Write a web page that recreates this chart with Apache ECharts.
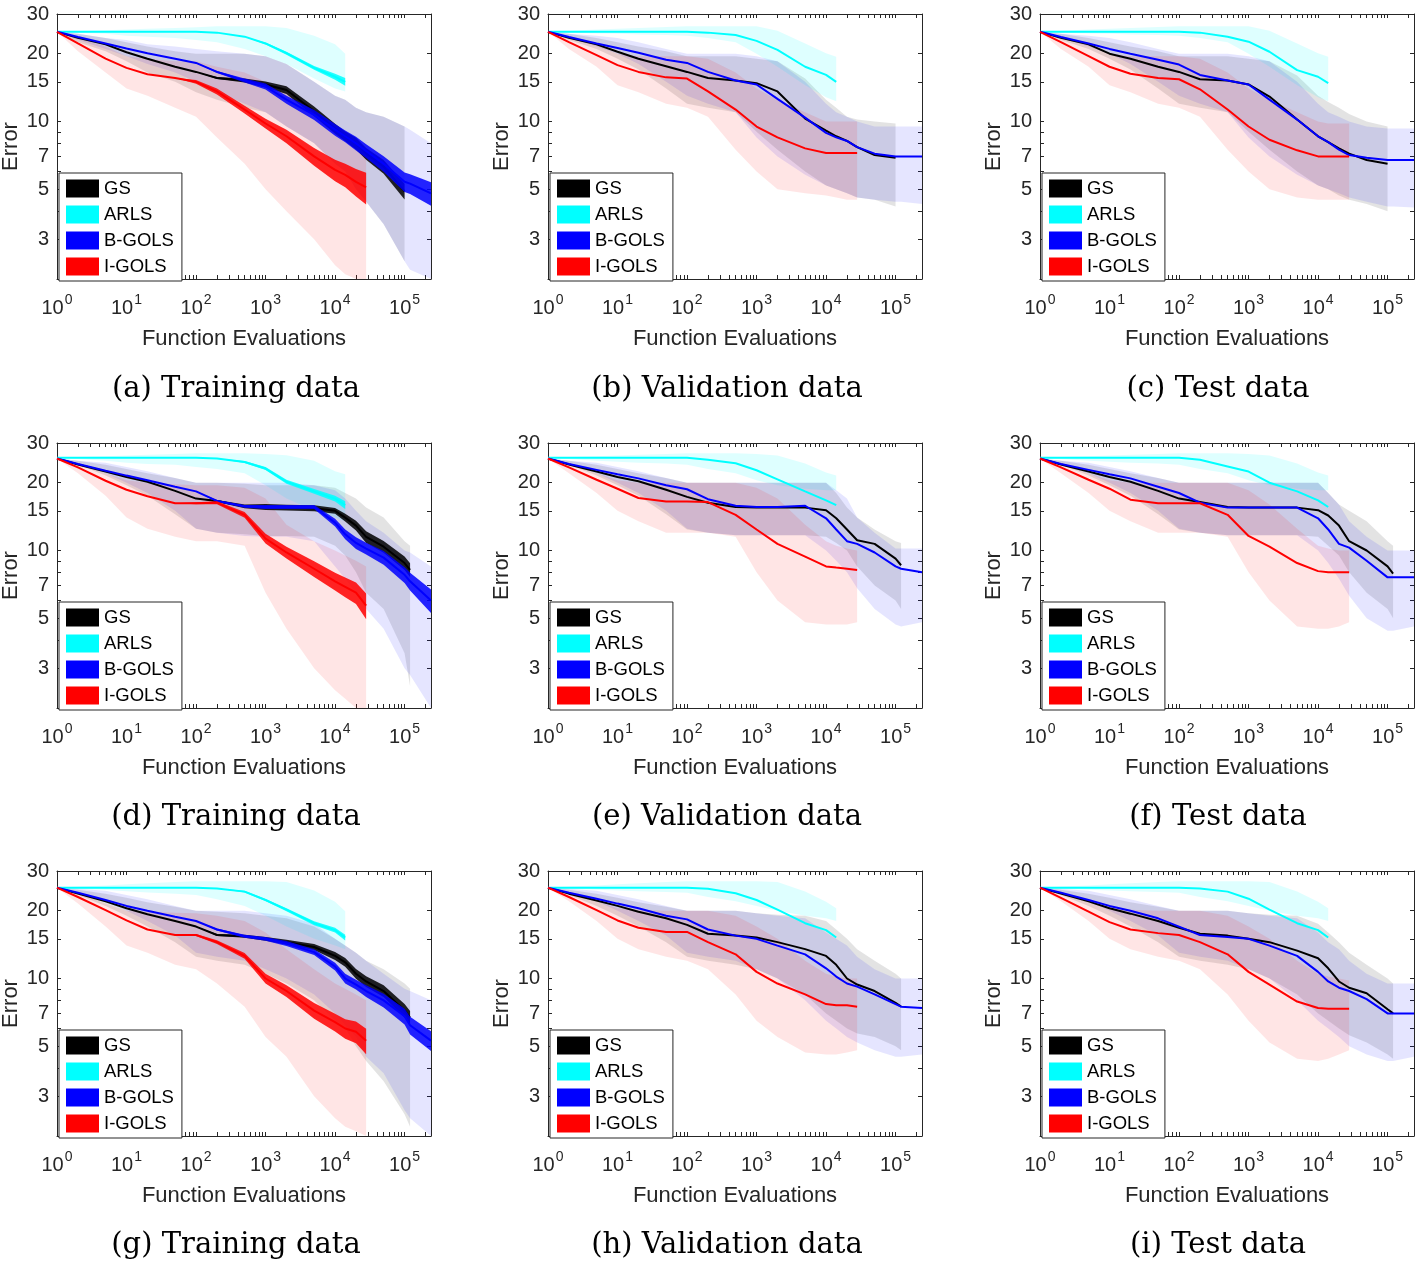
<!DOCTYPE html>
<html>
<head>
<meta charset="utf-8">
<script src="https://cdn.jsdelivr.net/npm/echarts@6/dist/echarts.min.js"></script>
<style>html,body{margin:0;padding:0;background:#fff}#c{width:1420px;height:1264px}</style>
</head>
<body>
<div id="c"></div>
<script>
// ---- shared x grid (function evaluations) ----
const X = [1, 2, 5, 10, 20, 50, 100, 200, 500, 1e3, 2e3, 5e3, 1e4, 1.4e4, 2e4, 2.8e4, 5e4, 1e5, 1.2e5, 2.4e5];
const X_MAX = 2.4e5;
const Y_MIN = 2, Y_MAX = 30;
const X_LABELS = [1, 10, 100, 1000, 10000, 100000];
const X_TICKS = [1,2,3,4,5,6,7,8,9,10,20,30,40,50,60,70,80,90,100,200,300,400,500,600,700,800,900,
  1000,2000,3000,4000,5000,6000,7000,8000,9000,10000,20000,30000,40000,50000,60000,70000,80000,90000,100000,200000];
const Y_LABELS = [3, 5, 7, 10, 15, 20, 30];
const Y_TICKS = [3, 4, 5, 6, 7, 8, 9, 10, 15, 20, 30];
const NAMES = ['GS', 'ARLS', 'B-GOLS', 'I-GOLS'];
const CAPTIONS = ['(a) Training data', '(b) Validation data', '(c) Test data',
                  '(d) Training data', '(e) Validation data', '(f) Test data',
                  '(g) Training data', '(h) Validation data', '(i) Test data'];

// ---- panel (a) ----
const a_gs = [25, 23.5, 22, 20.3, 19, 17.5, 16.6, 15.6, 15.2, 14.6, 13.8, 11.1, 9.3, 8.6, 8.0, 7.2, 6.3, 4.9];
const a_gs_lo = [25, 22.5, 20.5, 18.5, 16.5, 15, 13.5, 12.5, 11.5, 11, 9.5, 8, 6.5, 6, 5, 4.4, 3.5, 2.4];
const a_gs_hi = [25, 24.5, 23.5, 22.5, 21.5, 20.5, 20, 20, 20, 19.5, 18, 15, 13, 12.5, 11.5, 11, 10.5, 9.5];
const a_arls = [25, 25, 25, 25, 25, 25, 25, 24.8, 23.8, 22.2, 20.1, 17.3, 15.8, 15.0];
const a_arls_lo = [25, 24.8, 24.5, 24, 23.8, 23.5, 23, 22.5, 21, 19.5, 18, 15.5, 14, 13.6];
const a_arls_hi = [25, 25.2, 25.4, 25.6, 25.8, 26, 26.2, 26.5, 26.5, 26.5, 26, 24, 22, 20];
const a_bg = [25, 23.7, 22.2, 21.1, 20.1, 19, 18.2, 16.6, 15.2, 14.3, 12.5, 10.7, 9.2, 8.6, 8.0, 7.4, 6.5, 5.4, 5.3, 4.8];
const a_bg_lo = [25, 23, 21, 19.5, 18, 16.5, 15, 13.5, 12, 11, 9.5, 8, 6.5, 6, 5, 4.4, 3.5, 2.4, 2.2, 2];
const a_bg_hi = [25, 24.5, 23.5, 23, 22, 21.5, 21, 20.5, 20, 19.5, 18, 15, 13, 12.5, 11.5, 11, 10.5, 9.5, 9.2, 8];
const a_ig = [25, 22.2, 19, 17.3, 16.2, 15.6, 15, 13.6, 11.3, 9.8, 8.6, 7.0, 6.1, 5.8, 5.4, 5.1];
const a_ig_lo = [25, 20.5, 16.5, 14, 13, 11.5, 10.5, 8.5, 6.5, 5, 4, 3, 2.3, 2.1, 2, 2];
const a_ig_hi = [25, 23.5, 21.5, 19.5, 19, 18.5, 18.5, 17.5, 16.5, 15, 13.5, 11, 9, 8.5, 8, 7.5];
// relative half-width of the noisy mean curves (training runs)
const a_gs_nz = [0, 0, 0, 0, 0, 0, 0, 0.01, 0.02, 0.03, 0.04, 0.05, 0.05, 0.05, 0.06, 0.06, 0.07, 0.08];
const a_arls_nz = [0, 0, 0, 0, 0, 0, 0, 0, 0, 0.01, 0.015, 0.02, 0.03, 0.04];
const a_bg_nz = [0, 0, 0, 0, 0, 0, 0, 0.01, 0.02, 0.03, 0.04, 0.05, 0.06, 0.06, 0.07, 0.07, 0.08, 0.1, 0.1, 0.12];
const a_ig_nz = [0, 0, 0, 0, 0, 0, 0.02, 0.03, 0.04, 0.05, 0.07, 0.09, 0.11, 0.12, 0.14, 0.16];

// ---- panel (b) ----
const b_gs = [25, 23.5, 22, 20.4, 19, 17.6, 16.6, 15.6, 15.2, 14.8, 13.6, 10.3, 9.1, 8.6, 8.2, 7.7, 7.1, 6.9];
const b_gs_lo = [25, 23, 21, 19, 17, 14, 12, 11.5, 11, 9, 7.5, 6, 5.2, 5, 4.8, 4.6, 4.5, 4.2];
const b_gs_hi = [25, 24.5, 23.5, 22.5, 21.5, 20.5, 19.5, 19.5, 19.5, 19, 18.5, 15.5, 12.5, 11.5, 10.5, 10.2, 10, 9.8];
const b_arls = [25, 25, 25, 25, 25, 25, 25, 24.8, 24.2, 22.8, 20.8, 17.5, 16.1, 15.0];
const b_arls_lo = [25, 24.8, 24.6, 24.5, 24.3, 24.2, 24, 23.5, 22.5, 20, 17.5, 14.5, 12.8, 12.3];
const b_arls_hi = [25, 25.3, 25.6, 25.8, 26, 26.3, 26.5, 26.5, 26.5, 26.5, 25.3, 22.2, 20.1, 19.4];
const b_bg = [25, 23.7, 22.2, 21.2, 20.2, 18.8, 18.2, 16.6, 15.2, 14.6, 12.6, 10.4, 8.9, 8.5, 8.2, 7.7, 7.2, 7.0, 7.0, 7.0];
const b_bg_lo = [25, 23.5, 21.5, 20, 18, 15, 13, 12, 11, 8.5, 7, 5.8, 5.2, 5, 4.8, 4.6, 4.5, 4.4, 4.4, 4.3];
const b_bg_hi = [25, 24.5, 24, 23.5, 22.5, 21, 20, 20, 20, 19.5, 18.5, 15, 12, 11, 10.5, 10, 9.5, 9.5, 9.5, 9.5];
const b_ig = [25, 22.5, 19.7, 17.8, 16.6, 15.7, 15.5, 13.6, 11.3, 9.5, 8.5, 7.6, 7.25, 7.25, 7.25, 7.25];
const b_ig_lo = [25, 21, 17.5, 14.5, 13.5, 12, 11.5, 10.5, 7.5, 6, 5, 4.8, 4.7, 4.6, 4.5, 4.5];
const b_ig_hi = [25, 24, 22, 20, 19.5, 19.5, 19.5, 19, 16.5, 14, 12.5, 11, 10, 10, 10, 10];

// ---- panel (c) ----
const c_gs = [25, 23.5, 22, 20, 19, 17.5, 16.6, 15.4, 15.2, 14.6, 12.9, 10.2, 8.6, 8.1, 7.6, 7.2, 6.75, 6.5];
const c_gs_lo = [25, 23, 21, 19, 17, 14, 12, 11.5, 11, 9, 7.5, 6, 5.2, 5, 4.7, 4.5, 4.3, 4.0];
const c_gs_hi = [25, 24.5, 23.5, 22.5, 21.5, 20.5, 19.5, 19.5, 19.5, 19, 18.5, 16, 13, 12.2, 11.5, 10.8, 10, 9.5];
const c_arls = [25, 25, 25, 25, 25, 25, 25, 24.8, 23.8, 22.6, 20.4, 16.9, 15.8, 14.8];
const c_arls_lo = [25, 24.8, 24.6, 24.5, 24.3, 24.2, 24, 23.5, 22.5, 20, 17.5, 14.5, 12.8, 12.3];
const c_arls_hi = [25, 25.3, 25.6, 25.8, 26, 26.3, 26.5, 26.5, 26.5, 26.5, 25.3, 22.2, 20.1, 19.4];
const c_bg = [25, 23.7, 22.2, 21, 20, 18.8, 17.9, 16.1, 15.2, 14.6, 12.5, 10.2, 8.6, 8.1, 7.5, 7.1, 6.9, 6.75, 6.75, 6.75];
const c_bg_lo = [25, 23.5, 21.5, 20, 18, 15, 13, 12, 11, 8.5, 7, 5.8, 5.2, 5, 4.8, 4.6, 4.4, 4.2, 4.2, 4.15];
const c_bg_hi = [25, 24.5, 24, 23.5, 22.5, 21, 20, 20, 20, 19.5, 18.5, 15, 12, 11, 10.5, 10, 9.5, 9.3, 9.3, 9.3];
const c_ig = [25, 22.5, 19.5, 17.5, 16.3, 15.6, 15.4, 13.9, 11.3, 9.5, 8.3, 7.45, 7.0, 7.0, 7.0, 7.0];
const c_ig_lo = [25, 21, 17.5, 14.5, 13.5, 12, 11.5, 10.5, 7.5, 6, 5, 4.6, 4.5, 4.5, 4.5, 4.5];
const c_ig_hi = [25, 24, 22, 20, 19.5, 19.5, 19.5, 19, 16.5, 14, 12.5, 11, 10, 9.8, 9.8, 9.8];

// ---- panel (d) ----
const d_gs = [25.6, 24.1, 22.4, 21.2, 20.2, 18.4, 17, 16.6, 15.7, 15.6, 15.5, 15.4, 15, 14.0, 12.9, 11.5, 10.4, 8.8, 8.2];
const d_gs_lo = [25.6, 24, 21.5, 19.5, 17.5, 14.5, 12.5, 12, 11.8, 11.6, 11.6, 11.5, 10.5, 9.5, 8, 6.5, 5.5, 3.5, 2.5];
const d_gs_hi = [25.6, 25, 24, 23, 22, 21, 20, 20, 19.8, 19.5, 19.5, 19.5, 19, 18, 17, 15.5, 14, 11, 10.5];
const d_arls = [25.8, 25.8, 25.8, 25.8, 25.8, 25.8, 25.8, 25.6, 24.7, 23.1, 20.2, 18.3, 17, 15.9];
const d_arls_lo = [25.8, 25.5, 25, 24.5, 24.2, 24, 23.5, 23, 22, 19.5, 17, 15, 14, 13.5];
const d_arls_hi = [25.8, 26, 26.2, 26.4, 26.6, 26.8, 27, 27, 27, 26.8, 26.5, 25, 22.5, 21.8];
const d_bg = [25.6, 24.2, 22.6, 21.5, 20.5, 19.2, 18.3, 16.6, 15.7, 15.6, 15.6, 15.6, 13.3, 11.8, 10.8, 10.2, 9.3, 7.8, 7.3, 6.0];
const d_bg_lo = [25.6, 24, 22, 20, 18, 15, 12.5, 12, 11.6, 11.5, 11.5, 11, 8.5, 7.5, 6.5, 5.5, 4.5, 3, 2.8, 2];
const d_bg_hi = [25.6, 25, 24.5, 23.5, 22.5, 21, 20, 20, 20, 20, 20, 19.5, 18.5, 17, 15, 13.5, 12, 10, 9.8, 8.5];
const d_ig = [25.6, 23.4, 20.4, 18.6, 17.4, 16.2, 16.2, 16.3, 14.4, 11.3, 9.8, 8.3, 7.3, 6.9, 6.5, 5.7];
const d_ig_lo = [25.6, 22, 17.5, 14, 12.5, 11.5, 11, 11, 10.5, 6.5, 4.5, 3, 2.4, 2.2, 2, 2];
const d_ig_hi = [25.6, 24.5, 22, 20.5, 20, 19.7, 19.5, 19.5, 19, 17, 13, 11, 10, 9.5, 9, 8.5];
const d_gs_nz = [0, 0, 0, 0, 0, 0, 0, 0.01, 0.02, 0.03, 0.03, 0.03, 0.03, 0.04, 0.05, 0.06, 0.06, 0.07, 0.07];
const d_arls_nz = [0, 0, 0, 0, 0, 0, 0, 0, 0.01, 0.015, 0.02, 0.025, 0.03, 0.04];
const d_bg_nz = [0, 0, 0, 0, 0, 0, 0, 0.01, 0.015, 0.02, 0.02, 0.02, 0.04, 0.05, 0.06, 0.06, 0.07, 0.08, 0.09, 0.12];
const d_ig_nz = [0, 0, 0, 0, 0, 0, 0.01, 0.015, 0.03, 0.05, 0.06, 0.08, 0.09, 0.1, 0.11, 0.13];

// ---- panel (e) ----
const e_gs = [25.6, 24.1, 22.4, 21.2, 20.3, 18.6, 17.3, 16.3, 15.6, 15.5, 15.5, 15.5, 15.1, 13.9, 12.4, 11.1, 10.7, 9.2, 8.6];
const e_gs_lo = [25.6, 24, 21.5, 19.5, 17.5, 14.5, 12.4, 12, 11.7, 11.7, 11.7, 11.7, 11.5, 10.8, 10, 8.5, 7, 6, 5.5];
const e_gs_hi = [25.6, 25, 24, 23, 22, 21, 20, 20, 20, 20, 20, 20, 20, 18, 15.5, 14, 12.4, 11, 10.8];
const e_arls = [25.8, 25.8, 25.8, 25.8, 25.8, 25.8, 25.8, 25.3, 24.4, 22.7, 20.7, 18.3, 16.7, 15.9];
const e_arls_lo = [25.8, 25.5, 25, 24.8, 24.5, 24.3, 24, 23, 22, 20.5, 19.5, 18.8, 18.5, 18.5];
const e_arls_hi = [25.8, 26, 26.2, 26.4, 26.6, 26.8, 27, 27, 27, 26.8, 26.4, 24.3, 22.2, 21.5];
const e_bg = [25.6, 24.2, 22.8, 21.8, 20.9, 19.5, 18.7, 16.9, 15.8, 15.6, 15.6, 15.8, 13.9, 12.4, 11, 10.7, 9.8, 8.5, 8.3, 8.0];
const e_bg_lo = [25.6, 24, 22, 20, 18, 15, 12.5, 12, 11.7, 11.7, 11.7, 11.7, 10, 9, 8, 6.8, 5.5, 4.7, 4.6, 4.8];
const e_bg_hi = [25.6, 25, 24.5, 23.5, 22.5, 21, 20, 20, 20, 20, 20, 20, 20, 18.5, 17, 14, 12, 10.2, 10.2, 10.2];
const e_ig = [25.6, 23.4, 20.6, 18.8, 17.1, 16.5, 16.5, 16.4, 14.4, 12.4, 10.7, 9.4, 8.5, 8.4, 8.3, 8.2];
const e_ig_lo = [25.6, 22, 18, 15, 13.5, 12, 12, 12, 11.5, 8, 6, 4.8, 4.7, 4.7, 4.7, 4.8];
const e_ig_hi = [25.6, 24.5, 22, 20.5, 20, 20, 20, 20, 20, 19, 17, 13, 11, 10.5, 10.2, 10];

// ---- panel (f) ----
const f_gs = [25.6, 24.1, 22.4, 21.2, 20.2, 18.4, 17, 16.4, 15.6, 15.5, 15.5, 15.5, 15.1, 14.3, 12.9, 11, 10, 8.5, 7.9];
const f_gs_lo = [25.6, 24, 21.5, 19.5, 17.5, 14.5, 12.4, 12, 11.7, 11.7, 11.7, 11.7, 11.5, 10.5, 9.5, 8, 6.5, 5.5, 5];
const f_gs_hi = [25.6, 25, 24, 23, 22, 21, 20, 20, 20, 20, 20, 20, 20, 18, 16, 15, 13.5, 11, 10.5];
const f_arls = [25.8, 25.8, 25.8, 25.8, 25.8, 25.8, 25.8, 25.3, 23.6, 22.4, 20, 18.3, 16.7, 15.6];
const f_arls_lo = [25.8, 25.5, 25, 24.8, 24.5, 24.3, 24, 23, 22, 20.5, 19.5, 18.8, 18.5, 18.5];
const f_arls_hi = [25.8, 26, 26.2, 26.4, 26.6, 26.8, 27, 27, 27, 26.8, 26.4, 24.3, 22.2, 21.5];
const f_bg = [25.6, 24.2, 22.8, 21.8, 20.9, 19.2, 18.0, 16.3, 15.5, 15.5, 15.5, 15.5, 13.9, 12.4, 10.7, 10.3, 9.0, 7.6, 7.6, 7.6];
const f_bg_lo = [25.6, 24, 22, 20, 18, 15, 12.5, 12, 11.7, 11.7, 11.7, 11.7, 10, 8.8, 7.5, 6.3, 5, 4.4, 4.4, 4.6];
const f_bg_hi = [25.6, 25, 24.5, 23.5, 22.5, 21, 20, 20, 20, 20, 20, 20, 20, 18, 16, 13.5, 11.5, 10, 10, 10];
const f_ig = [25.6, 23.4, 20.6, 18.8, 16.8, 16.2, 16.2, 16.2, 14.4, 11.6, 10.4, 8.8, 8.1, 8.0, 8.0, 8.0];
const f_ig_lo = [25.6, 22, 18, 15, 13.5, 12, 12, 12, 11.5, 8, 6, 4.6, 4.5, 4.5, 4.6, 4.8];
const f_ig_hi = [25.6, 24.5, 22, 20.5, 20, 20, 20, 20, 20, 18.5, 16, 12.5, 10.5, 10.2, 10, 10];

// ---- panel (g) ----
const g_gs = [25.3, 23.8, 22, 20.5, 19.3, 18, 17, 15.6, 15.4, 15, 14.5, 13.8, 12.6, 11.8, 10.5, 9.7, 8.8, 7.2, 6.7];
const g_gs_lo = [25.3, 23.5, 21, 19, 17, 14.5, 12.5, 12, 11.5, 10.5, 9.5, 8, 6.5, 6, 5, 4.3, 3.5, 2.5, 2.2];
const g_gs_hi = [25.3, 24.8, 23.8, 22.8, 21.8, 20.8, 20, 19.8, 19.5, 19, 18.5, 17, 15, 14, 13, 12, 11, 9.5, 9];
const g_arls = [25.3, 25.3, 25.3, 25.3, 25.3, 25.3, 25.3, 25.1, 24.3, 22.3, 20.2, 17.6, 16.4, 15.2];
const g_arls_lo = [25.3, 25, 24.7, 24.4, 24.1, 23.8, 23.5, 22.5, 21, 19, 17, 15, 14, 13.5];
const g_arls_hi = [25.3, 25.6, 25.9, 26.2, 26.5, 26.8, 27, 27, 27, 27, 26.8, 24.6, 21.9, 19.9];
const g_bg = [25.3, 24, 22.3, 21, 20, 18.8, 18, 16.5, 15.4, 15, 14.3, 13.1, 11.3, 10, 9.4, 8.8, 8.0, 6.8, 6.2, 5.3];
const g_bg_lo = [25.3, 24, 22, 20, 18, 15.5, 13, 12.5, 12, 11, 10, 8.5, 7, 6.2, 5.5, 4.5, 3.8, 2.6, 2.4, 2];
const g_bg_hi = [25.3, 25, 24.5, 23.5, 22.5, 21, 20, 20, 20, 19.5, 19, 17.5, 15, 14, 13, 12, 10.5, 9, 8.8, 8];
const g_ig = [25.3, 23, 20.1, 18.1, 16.5, 15.6, 15.6, 14.5, 12.6, 10, 8.8, 7.2, 6.4, 6.0, 5.8, 5.3];
const g_ig_lo = [25.3, 21.5, 17, 14, 13, 11.5, 11, 9.5, 7.5, 5.5, 4.5, 3, 2.4, 2.2, 2.1, 2];
const g_ig_hi = [25.3, 24, 21.5, 20, 19.8, 19.6, 19.5, 19, 18, 16, 13.5, 11, 9.5, 9, 8.5, 8];
const g_gs_nz = [0, 0, 0, 0, 0, 0, 0, 0.01, 0.015, 0.02, 0.025, 0.03, 0.04, 0.045, 0.05, 0.055, 0.06, 0.07, 0.07];
const g_arls_nz = [0, 0, 0, 0, 0, 0, 0, 0, 0.01, 0.01, 0.015, 0.02, 0.025, 0.03];
const g_bg_nz = [0, 0, 0, 0, 0, 0, 0, 0.01, 0.015, 0.02, 0.025, 0.03, 0.04, 0.05, 0.05, 0.06, 0.07, 0.08, 0.09, 0.1];
const g_ig_nz = [0, 0, 0, 0, 0, 0, 0.01, 0.02, 0.03, 0.05, 0.06, 0.08, 0.09, 0.1, 0.11, 0.13];

// ---- panel (h) ----
const h_gs = [25.3, 23.8, 22.2, 21, 19.8, 18.5, 17.3, 15.8, 15.5, 15.2, 14.5, 13.5, 12.6, 11.5, 10.0, 9.4, 8.8, 7.8, 7.5];
const h_gs_lo = [25.3, 23.5, 21, 19, 17, 14.5, 12.5, 12, 11.5, 11, 10, 8.5, 7, 6.5, 6, 5.7, 5.5, 5, 4.8];
const h_gs_hi = [25.3, 24.8, 23.8, 22.8, 21.8, 20.8, 20, 20, 20, 19.5, 19.2, 19, 18, 16.5, 15, 13.5, 12, 10.5, 10];
const h_arls = [25.3, 25.3, 25.3, 25.3, 25.3, 25.3, 25.3, 25, 23.9, 22.3, 20.2, 17.6, 16.4, 15.2];
const h_arls_lo = [25.3, 25, 24.8, 24.6, 24.4, 24.2, 24, 23, 22, 21, 20, 19, 18.5, 18];
const h_arls_hi = [25.3, 25.6, 25.9, 26.2, 26.5, 26.8, 27, 27, 27, 27, 26.8, 24.3, 21.9, 20.5];
const h_bg = [25.3, 24, 22.6, 21.5, 20.5, 19, 18.3, 16.5, 15.5, 15, 14, 12.8, 11.1, 10.2, 9.5, 9.2, 8.5, 7.7, 7.5, 7.4];
const h_bg_lo = [25.3, 24, 22, 20, 18, 15.5, 13, 12.5, 12, 11, 10, 8, 6.5, 6, 5.5, 5.2, 4.8, 4.5, 4.5, 4.6];
const h_bg_hi = [25.3, 25, 24.5, 23.5, 22.5, 21, 20, 20, 20, 19.5, 19, 18.5, 16, 15, 14, 12.5, 11, 10, 10, 10];
const h_ig = [25.3, 23, 20.1, 18.1, 16.8, 16.1, 16.1, 14.5, 12.8, 10.7, 9.5, 8.5, 7.7, 7.6, 7.6, 7.5];
const h_ig_lo = [25.3, 22, 18, 15, 13.5, 12.5, 12, 11, 8.5, 6.5, 5.5, 4.7, 4.6, 4.6, 4.7, 4.8];
const h_ig_hi = [25.3, 24.3, 22, 20.5, 20.2, 20, 20, 20, 19, 17, 15, 12, 10.5, 10.2, 10, 10];

// ---- panel (i) ----
const i_gs = [25.3, 23.8, 22, 20.5, 19.4, 18, 16.8, 15.8, 15.5, 15, 14.5, 13.3, 12.3, 11.1, 9.7, 9.1, 8.6, 7.3, 7.0];
const i_gs_lo = [25.3, 23.5, 21, 19, 17, 14.5, 12.5, 12, 11.5, 11, 10, 8.5, 7, 6.5, 6, 5.6, 5.2, 4.6, 4.4];
const i_gs_hi = [25.3, 24.8, 23.8, 22.8, 21.8, 20.8, 20, 20, 20, 19.5, 19.2, 19, 17.5, 16, 14.5, 13, 11.5, 10, 9.5];
const i_arls = [25.3, 25.3, 25.3, 25.3, 25.3, 25.3, 25.3, 25.1, 24.3, 22.6, 20.2, 17.6, 16.4, 15.2];
const i_arls_lo = [25.3, 25, 24.8, 24.6, 24.4, 24.2, 24, 23, 22, 21, 20, 19, 18.5, 18];
const i_arls_hi = [25.3, 25.6, 25.9, 26.2, 26.5, 26.8, 27, 27, 27, 27, 26.8, 24.3, 21.9, 20.5];
const i_bg = [25.3, 24, 22.3, 21, 20, 18.5, 17, 15.6, 15.3, 15, 14, 12.6, 10.7, 9.7, 9.1, 8.8, 8.1, 7.0, 7.0, 7.0];
const i_bg_lo = [25.3, 24, 22, 20, 18, 15.5, 13, 12.5, 12, 11, 10, 8, 6.5, 6, 5.5, 5, 4.6, 4.3, 4.3, 4.5];
const i_bg_hi = [25.3, 25, 24.5, 23.5, 22.5, 21, 20, 20, 20, 19.5, 19, 18.5, 16, 14.5, 13.5, 12, 10.5, 9.5, 9.5, 9.5];
const i_ig = [25.3, 22.8, 19.8, 17.8, 16.5, 15.9, 15.6, 14.5, 12.8, 10.7, 9.4, 7.9, 7.4, 7.35, 7.35, 7.35];
const i_ig_lo = [25.3, 22, 18, 15, 13.5, 12.5, 12, 11, 8.5, 6.5, 5.2, 4.4, 4.3, 4.4, 4.6, 4.8];
const i_ig_hi = [25.3, 24.3, 22, 20.5, 20.2, 20, 20, 20, 19, 17, 15, 12, 10.5, 10.2, 10, 9.8];

// ---- assemble ----
const PANEL_DATA = [
  [[a_gs, a_gs_lo, a_gs_hi, a_gs_nz], [a_arls, a_arls_lo, a_arls_hi, a_arls_nz], [a_bg, a_bg_lo, a_bg_hi, a_bg_nz], [a_ig, a_ig_lo, a_ig_hi, a_ig_nz]],
  [[b_gs, b_gs_lo, b_gs_hi], [b_arls, b_arls_lo, b_arls_hi], [b_bg, b_bg_lo, b_bg_hi], [b_ig, b_ig_lo, b_ig_hi]],
  [[c_gs, c_gs_lo, c_gs_hi], [c_arls, c_arls_lo, c_arls_hi], [c_bg, c_bg_lo, c_bg_hi], [c_ig, c_ig_lo, c_ig_hi]],
  [[d_gs, d_gs_lo, d_gs_hi, d_gs_nz], [d_arls, d_arls_lo, d_arls_hi, d_arls_nz], [d_bg, d_bg_lo, d_bg_hi, d_bg_nz], [d_ig, d_ig_lo, d_ig_hi, d_ig_nz]],
  [[e_gs, e_gs_lo, e_gs_hi], [e_arls, e_arls_lo, e_arls_hi], [e_bg, e_bg_lo, e_bg_hi], [e_ig, e_ig_lo, e_ig_hi]],
  [[f_gs, f_gs_lo, f_gs_hi], [f_arls, f_arls_lo, f_arls_hi], [f_bg, f_bg_lo, f_bg_hi], [f_ig, f_ig_lo, f_ig_hi]],
  [[g_gs, g_gs_lo, g_gs_hi, g_gs_nz], [g_arls, g_arls_lo, g_arls_hi, g_arls_nz], [g_bg, g_bg_lo, g_bg_hi, g_bg_nz], [g_ig, g_ig_lo, g_ig_hi, g_ig_nz]],
  [[h_gs, h_gs_lo, h_gs_hi], [h_arls, h_arls_lo, h_arls_hi], [h_bg, h_bg_lo, h_bg_hi], [h_ig, h_ig_lo, h_ig_hi]],
  [[i_gs, i_gs_lo, i_gs_hi], [i_arls, i_arls_lo, i_arls_hi], [i_bg, i_bg_lo, i_bg_hi], [i_ig, i_ig_lo, i_ig_hi]]
];

// ---- layout / style ----
const COL_LEFT = [57, 548, 1040];
const ROW_TOP = [14, 443, 871];
const GRID_W = 374, GRID_H = 265;
const CAP_X = [236, 727, 1218];
const CAP_Y = [389, 817, 1245];
const LINE_COLORS = ['#000000', '#00ffff', '#0000ff', '#ff0000'];
const NOISE_COLORS = ['rgba(0,0,0,0.85)', 'rgba(0,255,255,0.85)', 'rgba(0,0,255,0.85)', 'rgba(255,0,0,0.85)'];
const BAND_COLORS = ['rgba(0,0,0,0.11)', 'rgba(0,255,255,0.13)', 'rgba(0,0,255,0.10)', 'rgba(255,0,0,0.10)'];
const AX = '#262626';
const SANS = 'Liberation Sans';

const grids = [], xAxes = [], yAxes = [], series = [], legends = [], graphics = [];

function polySeries(gi, lo, hi, color, z) {
  const pts = lo.map((v, k) => [X[k], Math.max(v, Y_MIN), Math.min(hi[k], Y_MAX)]);
  return {
    type: 'custom', xAxisIndex: gi * 2, yAxisIndex: gi * 2, silent: true, z: z, clip: true,
    data: pts, encode: { x: 0, y: [1, 2] },
    renderItem: function (params, api) {
      if (params.dataIndex !== 0) return null;
      const top = pts.map(p => api.coord([p[0], p[2]]));
      const bot = pts.map(p => api.coord([p[0], p[1]])).reverse();
      return { type: 'polygon', silent: true, shape: { points: top.concat(bot) }, style: { fill: color } };
    }
  };
}

for (let gi = 0; gi < 9; gi++) {
  const col = gi % 3, row = Math.floor(gi / 3);
  const left = COL_LEFT[col], top = ROW_TOP[row];
  grids.push({ left: left, top: top, width: GRID_W, height: GRID_H, containLabel: false, outerBoundsMode: 'none', show: false });

  const xBase = { type: 'log', logBase: 10, gridIndex: gi, min: 1, max: X_MAX, splitLine: { show: false },
    axisLine: { show: true, onZero: false, lineStyle: { color: AX, width: 1 } },
    axisTick: { show: true, inside: true, length: 4, customValues: X_TICKS, lineStyle: { color: AX, width: 1 } } };
  xAxes.push(Object.assign({}, xBase, {
    position: 'bottom',
    axisLabel: { show: true, customValues: X_LABELS, margin: 9, color: AX,
      formatter: v => '{b|10}{s|' + Math.round(Math.log10(v)) + '}',
      rich: { b: { fontSize: 20, fontFamily: SANS, color: AX, padding: [10, 0, 0, 0] },
              s: { fontSize: 14, fontFamily: SANS, color: AX, padding: [0, 0, 6, 1] } } },
    name: 'Function Evaluations', nameLocation: 'middle', nameGap: 49,
    nameTextStyle: { fontSize: 22, fontFamily: SANS, color: AX }
  }));
  xAxes.push(Object.assign({}, xBase, { position: 'top', axisLabel: { show: false } }));

  const yBase = { type: 'log', logBase: 10, gridIndex: gi, min: Y_MIN, max: Y_MAX, splitLine: { show: false },
    axisLine: { show: true, onZero: false, lineStyle: { color: AX, width: 1 } },
    axisTick: { show: true, inside: true, length: 4, customValues: Y_TICKS, lineStyle: { color: AX, width: 1 } } };
  yAxes.push(Object.assign({}, yBase, {
    position: 'left',
    axisLabel: { show: true, customValues: Y_LABELS, margin: 8, color: AX, fontSize: 20, fontFamily: SANS,
      formatter: v => String(Math.round(v)) },
    name: 'Error', nameLocation: 'middle', nameGap: 35,
    nameTextStyle: { fontSize: 22, fontFamily: SANS, color: AX }
  }));
  yAxes.push(Object.assign({}, yBase, { position: 'right', axisLabel: { show: false } }));

  const pd = PANEL_DATA[gi];
  // spread bands first
  for (let s = 0; s < 4; s++) series.push(polySeries(gi, pd[s][1], pd[s][2], BAND_COLORS[s], 1));
  // mean curves (with noise envelope where the run is noisy)
  for (let s = 0; s < 4; s++) {
    const mean = pd[s][0], nz = pd[s][3];
    if (nz) {
      series.push(polySeries(gi, mean.map((v, k) => v * (1 - nz[k])), mean.map((v, k) => v * (1 + nz[k])), NOISE_COLORS[s], 3 + s));
    }
    series.push({
      type: 'line', name: NAMES[s], xAxisIndex: gi * 2, yAxisIndex: gi * 2, z: 3 + s,
      showSymbol: false, symbol: 'none', animation: false, clip: true,
      lineStyle: { color: LINE_COLORS[s], width: 2 }, itemStyle: { color: LINE_COLORS[s] },
      data: mean.map((v, k) => [X[k], v])
    });
  }

  legends.push({
    data: NAMES, orient: 'vertical', left: left + 2, top: top + GRID_H - 106,
    icon: 'rect', itemWidth: 33, itemHeight: 18, itemGap: 7,
    padding: [6, 8, 5, 7], borderColor: AX, borderWidth: 1, backgroundColor: '#ffffff',
    selectedMode: false,
    textStyle: { fontSize: 18.5, fontFamily: SANS, color: '#000' }
  });

  graphics.push({
    type: 'text', x: CAP_X[col], y: CAP_Y[row], silent: true,
    style: { text: CAPTIONS[gi], fontSize: 29, fontFamily: 'DejaVu Serif', fill: '#000', align: 'center', verticalAlign: 'middle' }
  });
}

const chart = echarts.init(document.getElementById('c'), null, { renderer: 'canvas' });
chart.setOption({
  animation: false,
  backgroundColor: '#ffffff',
  grid: grids, xAxis: xAxes, yAxis: yAxes, series: series, legend: legends, graphic: graphics
});
</script>
</body>
</html>
